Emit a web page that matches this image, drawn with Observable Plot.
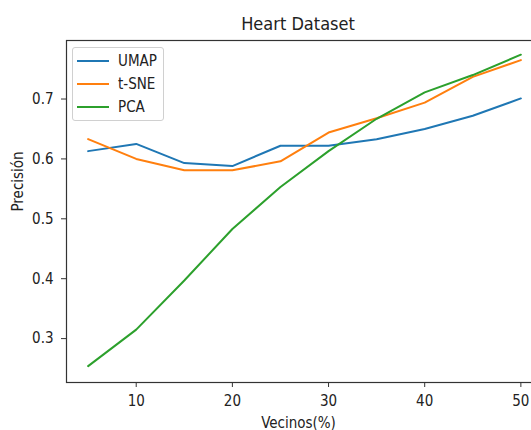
<!DOCTYPE html>
<html>
<head>
<meta charset="utf-8">
<script src="https://cdn.jsdelivr.net/npm/d3@7"></script>
<script src="https://cdn.jsdelivr.net/npm/@observablehq/plot@0.6"></script>
<style>
  html, body { margin: 0; padding: 0; background: #fff; overflow: hidden; width: 531px; height: 430px; }
  body { font-family: "DejaVu Sans Condensed", "DejaVu Sans", sans-serif; font-stretch: condensed; position: relative; }
  #title { position: absolute; left: 66px; width: 464px; top: 15px; font-size: 18px; line-height: 18px; text-align: center; color: #222; }
  #chart { position: absolute; left: 0; top: 30px; width: 546px; height: 400px; }
  #chart svg { max-width: none !important; width: 546px; height: 400px; }
  #legend { position: absolute; left: 72px; top: 47px; width: 92px; height: 74px; box-sizing: border-box;
            border: 1px solid #d0d0d0; border-radius: 3px; background: rgba(255,255,255,0.85); }
  .row { position: absolute; left: 0; height: 20px; font-size: 15px; line-height: 20px; color: #222; }
  .sw { position: absolute; left: 4px; top: 9px; width: 32px; height: 0; border-top: 2px solid; }
  .lab { position: absolute; left: 45px; top: 0; white-space: nowrap; }
</style>
</head>
<body>
<div id="title">Heart Dataset</div>
<div id="chart"></div>
<div id="legend"></div>
<script>
const vecinos = [5, 10, 15, 20, 25, 30, 35, 40, 45, 50];
const umap = [0.613, 0.625, 0.593, 0.588, 0.622, 0.622, 0.633, 0.650, 0.672, 0.701];
const tsne = [0.633, 0.600, 0.581, 0.581, 0.596, 0.644, 0.668, 0.694, 0.737, 0.765];
const pca  = [0.254, 0.315, 0.397, 0.483, 0.553, 0.613, 0.667, 0.711, 0.740, 0.774];
const seriesNames = ["UMAP", "t-SNE", "PCA"];
const seriesColors = ["#1f77b4", "#ff7f0e", "#2ca02c"];
const xTicks = [10, 20, 30, 40, 50];
const yTicks = [0.3, 0.4, 0.5, 0.6, 0.7];

const seriesValues = [umap, tsne, pca];
const data = [];
seriesNames.forEach((name, i) => {
  vecinos.forEach((v, j) => data.push({method: name, x: v, y: seriesValues[i][j]}));
});

const chart = Plot.plot({
  width: 546,
  height: 400,
  marginLeft: 66,
  marginRight: 4,
  marginTop: 10,
  marginBottom: 48,
  style: { fontFamily: '"DejaVu Sans Condensed", "DejaVu Sans", sans-serif', fontSize: "15px", color: "#222", background: "white", fontStretch: "condensed", maxWidth: "none" },
  x: { domain: [2.75, 52.25] },
  y: { domain: [0.2267, 0.7977] },
  color: { domain: seriesNames, range: seriesColors },
  marks: [
    Plot.line(data, { x: "x", y: "y", z: "method", stroke: "method", strokeWidth: 2 }),
    Plot.frame({ stroke: "#333", strokeWidth: 1.2 }),
    Plot.axisX(xTicks, { tickSize: 5, tickPadding: 8, fontSize: 15, label: null, stroke: "#333" }),
    Plot.axisY(yTicks, { tickSize: 5, tickPadding: 8, fontSize: 15, label: null, stroke: "#333", tickFormat: d3.format(".1f") }),
    Plot.text(["Vecinos(%)"], { frameAnchor: "bottom", dy: 45, dx: -6, fontSize: 15, fill: "#222" }),
    Plot.text(["Precisión"], { frameAnchor: "left", dx: -48, rotate: -90, fontSize: 15, fill: "#222" })
  ]
});
document.getElementById("chart").appendChild(chart);

const legend = document.getElementById("legend");
seriesNames.forEach((name, i) => {
  const row = document.createElement("div");
  row.className = "row";
  row.style.top = (3 + i * 23) + "px";
  const sw = document.createElement("div");
  sw.className = "sw";
  sw.style.borderTopColor = seriesColors[i];
  const lab = document.createElement("div");
  lab.className = "lab";
  lab.textContent = name;
  row.appendChild(sw);
  row.appendChild(lab);
  legend.appendChild(row);
});
</script>
</body>
</html>
